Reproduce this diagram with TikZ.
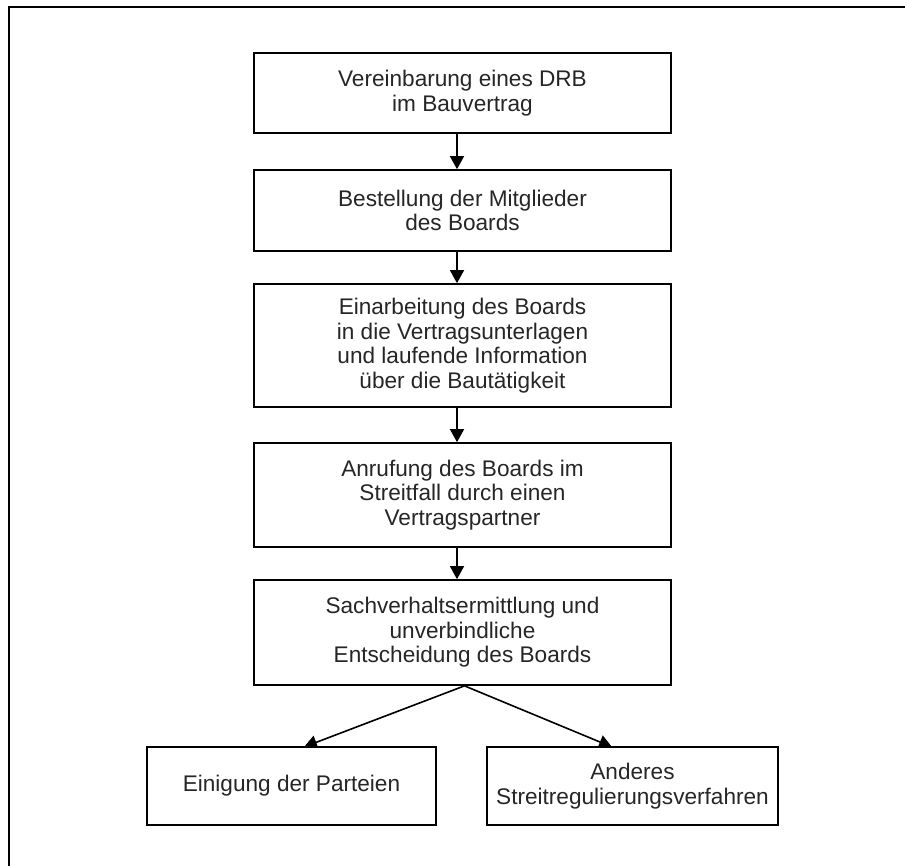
\documentclass[tikz,border=0pt]{standalone}
\usepackage{fontspec}
\setmainfont{Liberation Sans}
\usetikzlibrary{arrows.meta}
\begin{document}
\begin{tikzpicture}[x=1pt,y=-1pt,
  stepbox/.style={draw=black,line width=1.7pt,fill=white,align=center,
    text=black!85,inner sep=0pt,font=\fontsize{22.6}{24.5}\selectfont},
  flow/.style={line width=1.6pt,-{Triangle[width=14pt,length=13pt]}}]
\useasboundingbox (0,0) rectangle (905,866);
% outer frame
\draw[line width=2pt] (9,866) -- (9,7) -- (905,7);

% main column
\node[stepbox,minimum width=417pt,minimum height=80pt] (b1) at (462.5,93)
  {Vereinbarung eines DRB\\im Bauvertrag};
\node[stepbox,minimum width=417pt,minimum height=81pt] (b2) at (462.5,210.5)
  {Bestellung der Mitglieder\\des Boards};
\node[stepbox,minimum width=417pt,minimum height=123pt] (b3) at (462.5,345.5)
  {Einarbeitung des Boards\\in die Vertragsunterlagen\\und laufende Information\\über die Bautätigkeit};
\node[stepbox,minimum width=417pt,minimum height=104pt] (b4) at (462.5,495)
  {Anrufung des Boards im\\Streitfall durch einen\\Vertragspartner};
\node[stepbox,minimum width=417pt,minimum height=105pt] (b5) at (462.5,632.5)
  {Sachverhaltsermittlung und\\unverbindliche\\Entscheidung des Boards};

% diagonal branches (drawn first, the boxes cover the arrow ends)
\coordinate (apex) at ([xshift=2pt]b5.south);
\coordinate (e1t) at (304,747);
\coordinate (e2t) at (612,747);
\draw[flow] (apex) -- (e1t);
\draw[flow] (apex) -- (e2t);

% outcome boxes
\node[stepbox,minimum width=289pt,minimum height=78pt] (e1) at (291.5,786)
  {Einigung der Parteien};
\node[stepbox,minimum width=291pt,minimum height=78pt] (e2) at (632.5,786)
  {Anderes\\Streitregulierungsverfahren};

% vertical connectors
\foreach \a/\b in {b1/b2,b2/b3,b3/b4,b4/b5}
  \draw[flow] ([xshift=-5.5pt]\a.south) -- ([xshift=-5.5pt]\b.north);
\end{tikzpicture}
\end{document}
